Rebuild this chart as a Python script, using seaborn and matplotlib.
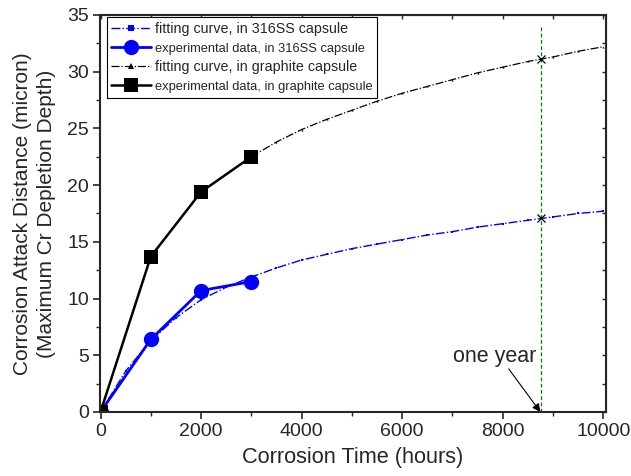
import pandas as pd
import seaborn as sns
import matplotlib.pyplot as plt
from matplotlib.ticker import MultipleLocator

# ---------- data ----------
exp_hours = [0, 1000, 2000, 3000]
exp_316ss = [0, 6.4, 10.7, 11.5]
exp_graphite = [0, 13.7, 19.4, 22.5]

fit_hours_316ss = [0, 500, 1000, 1500, 2000, 2500, 3000, 3500, 4000, 4500, 5000, 5500,
                   6000, 6500, 7000, 7500, 8000, 8500, 9000, 9500, 10000]
fit_316ss = [0, 3.6, 6.3, 8.3, 9.9, 11.0, 11.9, 12.7, 13.4, 13.9, 14.4, 14.8,
             15.2, 15.6, 15.9, 16.3, 16.6, 16.9, 17.2, 17.5, 17.7]

fit_hours_graphite = [3000, 3500, 4000, 4500, 5000, 5500, 6000, 6500, 7000, 7500,
                      8000, 8500, 9000, 9500, 10000]
fit_graphite = [22.5, 23.8, 24.9, 25.8, 26.6, 27.4, 28.1, 28.7, 29.3, 29.9,
                30.4, 30.9, 31.3, 31.8, 32.2]

one_year = 8760
one_year_values = [17.1, 31.1]

sns.set_style("ticks")
plt.rcParams['font.family'] = ['Liberation Sans', 'DejaVu Sans']

fig = plt.figure(figsize=(6.31, 4.76), dpi=100)
ax = fig.add_axes([0.1585, 0.1345, 0.8015, 0.834])

sns.lineplot(x=fit_hours_316ss, y=fit_316ss, ax=ax, color='blue', lw=1.0,
             linestyle='-.', marker='s', markersize=1.5, markeredgewidth=0,
             label='fitting curve, in 316SS capsule')
sns.lineplot(x=exp_hours, y=exp_316ss, ax=ax, color='blue', lw=2.0,
             marker='o', markersize=11, markeredgewidth=0,
             label='experimental data, in 316SS capsule')
sns.lineplot(x=fit_hours_graphite, y=fit_graphite, ax=ax, color='black', lw=0.9,
             linestyle='-.', marker='^', markersize=1.5, markeredgewidth=0,
             label='fitting curve, in graphite capsule')
sns.lineplot(x=exp_hours, y=exp_graphite, ax=ax, color='black', lw=1.8,
             marker='s', markersize=9.5, markeredgewidth=0,
             label='experimental data, in graphite capsule')

# one year marker
ax.plot([one_year, one_year], [0, 33.9], color='green', lw=0.9, linestyle=(0, (3, 2)))
ax.plot([one_year] * len(one_year_values), one_year_values, linestyle='none',
        marker='x', color='black', markersize=6, markeredgewidth=0.9)
ax.text(7840, 4.4, 'one year', ha='center', va='baseline', fontsize=15.5)
ax.annotate('', xy=(one_year - 10, 0.0), xytext=(8120, 3.8),
            arrowprops=dict(arrowstyle='-|>', color='black', lw=0.8,
                            shrinkA=0, shrinkB=0, mutation_scale=12))

ax.set_xlim(-10, 10050)
ax.set_ylim(0, 35)
ax.xaxis.set_major_locator(MultipleLocator(2000))
ax.xaxis.set_minor_locator(MultipleLocator(1000))
ax.yaxis.set_major_locator(MultipleLocator(5))
ax.yaxis.set_minor_locator(MultipleLocator(2.5))
ax.tick_params(which='major', direction='out', length=5, width=1.2, labelsize=14, pad=3)
ax.tick_params(which='minor', direction='out', length=3, width=1.0)

for side in ['top', 'right']:
    ax.spines[side].set_visible(True)
for s in ax.spines.values():
    s.set_linewidth(1.5)

top = ax.secondary_xaxis('top')
top.xaxis.set_major_locator(MultipleLocator(2000))
top.xaxis.set_minor_locator(MultipleLocator(1000))
top.tick_params(which='both', direction='in', labeltop=False, length=3, width=1.0)
right = ax.secondary_yaxis('right')
right.yaxis.set_major_locator(MultipleLocator(5))
right.yaxis.set_minor_locator(MultipleLocator(2.5))
right.tick_params(which='both', direction='in', labelright=False, length=3, width=1.0)

ax.set_xlabel('Corrosion Time (hours)', fontsize=15.7, labelpad=5)
ax.set_ylabel('Corrosion Attack Distance (micron)\n(Maximum Cr Depletion Depth)',
              fontsize=15, labelpad=8, linespacing=1.35)

leg = ax.legend(loc='upper left', bbox_to_anchor=(0.013, 0.994), fontsize=10.3,
                frameon=True, fancybox=False, edgecolor='black', framealpha=1,
                handlelength=2.8, handletextpad=0.3, borderpad=0.3, labelspacing=0.41,
                borderaxespad=0)
leg.get_frame().set_linewidth(0.8)
for t in leg.get_texts():
    if t.get_text().startswith('experimental'):
        t.set_fontsize(9.3)
for h in leg.legend_handles:
    if h.get_markersize() < 2:
        h.set_markersize(4)

plt.savefig('out.png', dpi=100)
